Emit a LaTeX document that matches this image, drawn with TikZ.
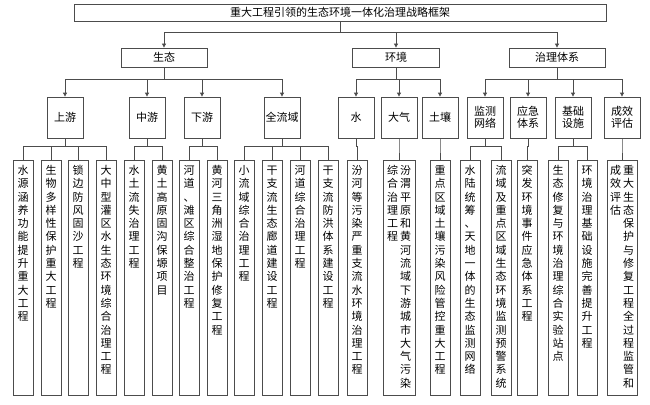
\documentclass[tikz,border=0pt]{standalone}
\usepackage{fontspec}
\setmainfont{Noto Sans CJK SC}
\usetikzlibrary{arrows.meta}
\makeatletter
\newcommand\vcol[1]{\parbox[t]{11pt}{\fontsize{11}{13.3}\selectfont\centering\@tfor\ch:=#1\do{\ch\\}}}
\makeatother
\newcommand\vcols[2]{\vcol{#1}\hspace{2pt}\vcol{#2}}
\tikzset{
  box/.style={draw=black!70, line width=0.8pt, font=\fontsize{11}{12}\selectfont, align=center, inner sep=1pt},
  head/.style={box, minimum width=532pt, minimum height=17pt},
  part/.style={box, minimum height=19pt},
  sub/.style={box, minimum width=36pt, minimum height=41pt},
  leaf/.style={box, anchor=north, minimum width=20pt, inner ysep=3pt, text height=11pt, text depth=218pt},
  arr/.style={draw=black!70, line width=0.8pt, -{Triangle[length=4pt,width=4pt]}},
  wire/.style={draw=black!70, line width=0.8pt}
}
\begin{document}
\begin{tikzpicture}[x=1pt,y=-1pt]
      \useasboundingbox (0,0) rectangle (650,404);
      \node[head] (top) at (340,12.5) {重大工程引领的生态环境一体化治理战略框架};
      \node[part, minimum width=86pt] (eco) at (164,57.5) {生态};
      \node[part, minimum width=87pt] (env) at (396,57.5) {环境};
      \node[part, minimum width=96pt] (gov) at (557,57.5) {治理体系};
      % second row
      \node[sub] (up) at (65,117.5) {上游};
      \node[sub] (mid) at (147,117.5) {中游};
      \node[sub] (down) at (202,117.5) {下游};
      \node[sub] (basin) at (282,117.5) {全流域};
      \node[sub] (water) at (356,117.5) {水};
      \node[sub] (air) at (399,117.5) {大气};
      \node[sub] (soil) at (440,117.5) {土壤};
      \node[sub] (mon) at (485,117.5) {监测\\网络};
      \node[sub] (emg) at (528,117.5) {应急\\体系};
      \node[sub] (infra) at (573,117.5) {基础\\设施};
      \node[sub] (eval) at (622,117.5) {成效\\评估};
      % projects
      \node[leaf] (up1) at (23,160) {\vcol{水源涵养功能提升重大工程}};
      \node[leaf] (up2) at (51,160) {\vcol{生物多样性保护重大工程}};
      \node[leaf] (up3) at (78,160) {\vcol{锁边防风固沙工程}};
      \node[leaf] (up4) at (106,160) {\vcol{大中型灌区水生态环境综合治理工程}};
      \node[leaf] (mid1) at (134,160) {\vcol{水土流失治理工程}};
      \node[leaf] (mid2) at (162,160) {\vcol{黄土高原固沟保塬项目}};
      \node[leaf] (down1) at (189,160) {\vcol{河道、滩区综合整治工程}};
      \node[leaf] (down2) at (217,160) {\vcol{黄河三角洲湿地保护修复工程}};
      \node[leaf] (basin1) at (244,160) {\vcol{小流域综合治理工程}};
      \node[leaf] (basin2) at (272,160) {\vcol{干支流生态廊道建设工程}};
      \node[leaf] (basin3) at (300,160) {\vcol{河道综合治理工程}};
      \node[leaf] (basin4) at (328,160) {\vcol{干支流防洪体系建设工程}};
      \node[leaf] (water1) at (357,160) {\vcol{汾河等污染严重支流水环境治理工程}};
      \node[leaf, minimum width=32pt] (air1) at (399,160) {\vcols{综合治理工程}{汾渭平原和黄河流域下游城市大气污染}};
      \node[leaf] (soil1) at (440,160) {\vcol{重点区域土壤污染风险管控重大工程}};
      \node[leaf] (mon1) at (470,160) {\vcol{水陆统筹、天地一体的生态监测网络}};
      \node[leaf] (mon2) at (501,160) {\vcol{流域及重点区域生态环境监测预警系统}};
      \node[leaf] (emg1) at (527,160) {\vcol{突发环境事件应急体系工程}};
      \node[leaf] (infra1) at (558,160) {\vcol{生态修复与环境治理综合实验站点}};
      \node[leaf] (infra2) at (587,160) {\vcol{环境治理基础设施完善提升工程}};
      \node[leaf, minimum width=30pt] (eval1) at (622,160) {\vcols{成效评估}{重大生态保护与修复工程全过程监管和}};
      \begin{scope}[arr]
        \draw (top.south) -- ++(0,11) -| (eco.north);
        \draw (top.south) -- ++(0,11) -| (env.north);
        \draw (top.south) -- ++(0,11) -| (gov.north);
        \draw (eco.south) -- ++(0,12) -| (up.north);
        \draw (eco.south) -- ++(0,12) -| (mid.north);
        \draw (eco.south) -- ++(0,12) -| (down.north);
        \draw (eco.south) -- ++(0,12) -| (basin.north);
        \draw (env.south) -- ++(0,12) -| (water.north);
        \draw (env.south) -- ++(0,12) -| (air.north);
        \draw (env.south) -- ++(0,12) -| (soil.north);
        \draw (gov.south) -- ++(0,12) -| (mon.north);
        \draw (gov.south) -- ++(0,12) -| (emg.north);
        \draw (gov.south) -- ++(0,12) -| (infra.north);
        \draw (gov.south) -- ++(0,12) -| (eval.north);
      \end{scope}
      \begin{scope}[wire]
        \draw (up.south) -- ++(0,8) -| (up1.north);
        \draw (up.south) -- ++(0,8) -| (up2.north);
        \draw (up.south) -- ++(0,8) -| (up3.north);
        \draw (up.south) -- ++(0,8) -| (up4.north);
        \draw (mid.south) -- ++(0,8) -| (mid1.north);
        \draw (mid.south) -- ++(0,8) -| (mid2.north);
        \draw (down.south) -- ++(0,8) -| (down1.north);
        \draw (down.south) -- ++(0,8) -| (down2.north);
        \draw (basin.south) -- ++(0,8) -| (basin1.north);
        \draw (basin.south) -- ++(0,8) -| (basin2.north);
        \draw (basin.south) -- ++(0,8) -| (basin3.north);
        \draw (basin.south) -- ++(0,8) -| (basin4.north);
        \draw (water.south) -- ++(0,8) -| (water1.north);
        \draw (air.south) -- ++(0,8) -| (air1.north);
        \draw (soil.south) -- ++(0,8) -| (soil1.north);
        \draw (mon.south) -- ++(0,8) -| (mon1.north);
        \draw (mon.south) -- ++(0,8) -| (mon2.north);
        \draw (emg.south) -- ++(0,8) -| (emg1.north);
        \draw (infra.south) -- ++(0,8) -| (infra1.north);
        \draw (infra.south) -- ++(0,8) -| (infra2.north);
        \draw (eval.south) -- ++(0,8) -| (eval1.north);
      \end{scope}
    \end{tikzpicture}
\end{document}
